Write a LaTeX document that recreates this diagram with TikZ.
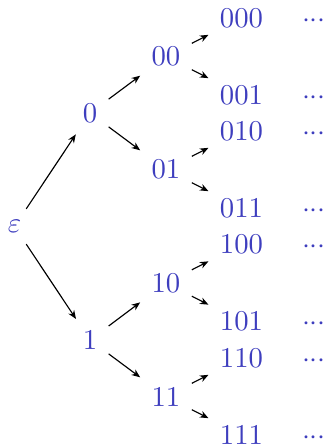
\documentclass[tikz,border=0pt]{standalone}
\usetikzlibrary{arrows.meta}
\definecolor{labblue}{RGB}{62,62,190}
\begin{document}
\begin{tikzpicture}[x=0.3484pt,y=-0.3484pt,
  lab/.style={text=labblue,inner sep=3.8pt},
  dotsnode/.style={text=labblue,inner sep=0pt},
  edge/.style={line width=0.4pt,-{Stealth[length=3pt,width=2.4pt]}}]
\useasboundingbox (0,0) rectangle (328,446);
\node[lab] (e) at (14.5,226.5) {$\varepsilon$};
\node[lab] (n0) at (90,113) {0};
\node[lab] (n1) at (90,340) {1};
\node[lab] (n00) at (166,56.5) {00};
\node[lab] (n01) at (166,169.5) {01};
\node[lab] (n10) at (166,283) {10};
\node[lab] (n11) at (166,396.5) {11};
\node[lab] (n000) at (241.5,18) {000};
\node[lab] (n001) at (241.5,95) {001};
\node[lab] (n010) at (241.5,131) {010};
\node[lab] (n011) at (241.5,208) {011};
\node[lab] (n100) at (241.5,244.5) {100};
\node[lab] (n101) at (241.5,321.5) {101};
\node[lab] (n110) at (241.5,358) {110};
\node[lab] (n111) at (241.5,435) {111};
\foreach \n/\y in {d000/18,d001/95,d010/131,d011/208,d100/244.5,d101/321.5,d110/358,d111/435}
  \node[dotsnode] (\n) at (314,\y) {$\vphantom{0}{\cdotp}{\cdotp}{\cdotp}$};
\draw[edge] (e) -- (n0);
\draw[edge] (e) -- (n1);
\draw[edge] (n0) -- (n00);
\draw[edge] (n0) -- (n01);
\draw[edge] (n1) -- (n10);
\draw[edge] (n1) -- (n11);
\draw[edge] (n00) -- (n000);
\draw[edge] (n00) -- (n001);
\draw[edge] (n01) -- (n010);
\draw[edge] (n01) -- (n011);
\draw[edge] (n10) -- (n100);
\draw[edge] (n10) -- (n101);
\draw[edge] (n11) -- (n110);
\draw[edge] (n11) -- (n111);
\end{tikzpicture}
\end{document}
